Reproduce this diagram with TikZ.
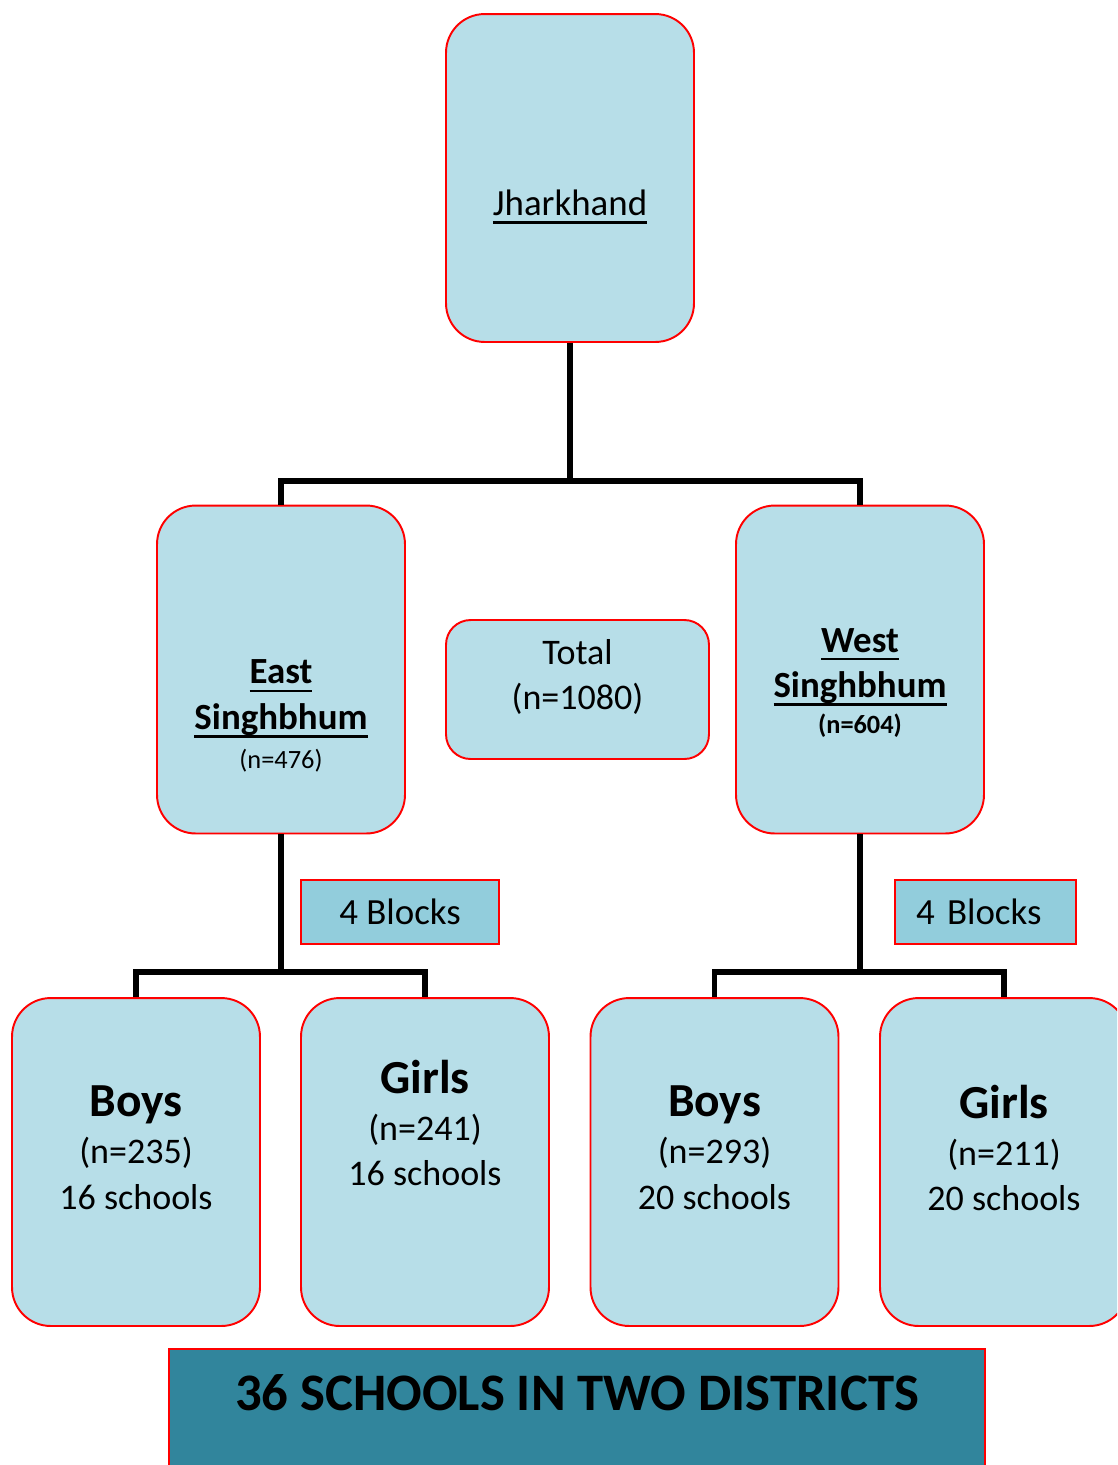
\documentclass[tikz,border=0pt]{standalone}
\usepackage{fontspec}
\setmainfont{Carlito}
\usetikzlibrary{positioning}

\definecolor{boxfill}{HTML}{B7DEE8}
\definecolor{blockfill}{HTML}{92CDDC}
\definecolor{bannerfill}{HTML}{31859C}

% underlined word
\newcommand{\undl}[1]{\leavevmode\setbox0=\hbox{#1}\rlap{\rule[-0.22em]{\wd0}{1.4pt}}\box0}

\begin{document}
\begin{tikzpicture}[
    x=0.02cm, y=-0.02cm,
    % Styles
    region/.style={
        rectangle,
        rounded corners=22pt,
        draw=red,
        line width=1.1pt,
        fill=boxfill,
        minimum width=4.96cm,
        minimum height=6.56cm,
        inner sep=0pt
    },
    totalbox/.style={
        region,
        rounded corners=14pt,
        minimum width=5.26cm,
        minimum height=2.78cm
    },
    blocks/.style={
        rectangle,
        draw=red,
        line width=1.1pt,
        fill=blockfill,
        minimum height=1.28cm,
        inner sep=0pt,
        font=\fontsize{21}{25}\selectfont
    },
    banner/.style={
        rectangle,
        draw=red,
        line width=1.1pt,
        fill=bannerfill,
        minimum width=16.32cm,
        minimum height=3cm,
        anchor=north
    },
    lbl/.style={
        align=center,
        inner sep=0pt,
        font=\fontsize{20.5}{26}\selectfont
    },
    link/.style={
        draw=black,
        line width=3pt
    }
]
\clip (0,0) rectangle (1117,1465);

% State
\node[region] (jh) at (570,178) {};
\node[lbl] (jh-txt) at (570,207) {\fontsize{21}{26}\selectfont\undl{Jharkhand}};

% Districts
\node[region] (east) at (281,669.5) {};
\node[lbl] (east-txt) at (281,716) {
    {\fontsize{21}{26}\selectfont\bfseries\undl{East}}\\
    {\fontsize{21}{26}\selectfont\bfseries\undl{Singhbhum}}\\[-4pt]
    {\fontsize{15}{18}\selectfont(n=476)}
};

\node[region] (west) at (860,669.5) {};
\node[lbl] (west-txt) at (860,683) {
    {\fontsize{21}{26}\selectfont\bfseries\undl{West}}\\
    {\fontsize{21}{26}\selectfont\bfseries\undl{Singhbhum}}\\[-5.5pt]
    {\fontsize{15}{18}\selectfont\bfseries(n=604)}
};

% Total in the middle
\node[totalbox] (total) at (577.5,689.5) {};
\node[lbl] (total-txt) at (577.5,677) {Total\\(n=1080)};

% Blocks
\node[blocks, minimum width=3.96cm] (blocks-e) at (400,912) {4 Blocks};
\node[blocks, text width=2.78cm, inner xsep=0.42cm, align=left] (blocks-w) at (985.5,912) {4 Blocks};

% Schools, East Singhbhum
\node[region] (boys-e) at (136,1162) {};
\node[lbl] (boys-e-txt) at (136,1148) {
    {\fontsize{27}{30}\selectfont\bfseries Boys}\\[0.8pt]
    (n=235)\\
    16 schools
};
\node[region] (girls-e) at (425,1162) {};
\node[lbl] (girls-e-txt) at (425,1123) {
    {\fontsize{27}{30}\selectfont\bfseries Girls}\\[0.8pt]
    (n=241)\\
    16 schools
};

% Schools, West Singhbhum
\node[region] (boys-w) at (714.5,1162) {};
\node[lbl] (boys-w-txt) at (714.5,1148) {
    {\fontsize{27}{30}\selectfont\bfseries Boys}\\[0.8pt]
    (n=293)\\
    20 schools
};
\node[region] (girls-w) at (1004,1162) {};
\node[lbl] (girls-w-txt) at (1004,1148) {
    {\fontsize{27}{30}\selectfont\bfseries Girls}\\[0.8pt]
    (n=211)\\
    20 schools
};

% Banner
\node[banner] (foot) at (577,1348) {};
\node[lbl, font=\fontsize{30}{34}\selectfont\bfseries] (foot-txt) at (577,1393) {36 SCHOOLS IN TWO DISTRICTS};

% Connectors
\coordinate (jh-fork) at (570,481);
\coordinate (east-fork) at (281,972);
\coordinate (west-fork) at (860,972);
\draw[link] (jh.south) -- (jh-fork);
\draw[link] (east.north) |- (jh-fork) -| (west.north);
\draw[link] (east.south) -- (east-fork);
\draw[link] (boys-e.north) |- (east-fork) -| (girls-e.north);
\draw[link] (west.south) -- (west-fork);
\draw[link] (boys-w.north) |- (west-fork) -| (girls-w.north);

\end{tikzpicture}
\end{document}
